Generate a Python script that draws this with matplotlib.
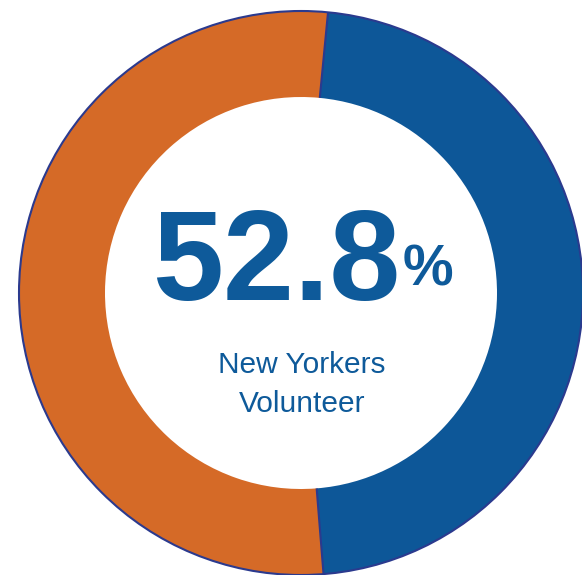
import numpy as np
import matplotlib.pyplot as plt
from matplotlib.patches import Circle

# shares of the ring (blue part, orange part)
labels = ['Do not volunteer', 'New Yorkers Volunteer']
values = [47.2, 52.8]
colors = ['#0d5798', '#d56a27']
big_text = '52.8'
subtitle = ['New Yorkers', 'Volunteer']

W, H = 582, 575
fig = plt.figure(figsize=(W / 100, H / 100), dpi=100)
ax = fig.add_axes([0, 0, 1, 1])

cx, cy = 301, H - 293
R = 282
ring = 86 / R

wedges, _ = ax.pie(values, colors=colors, startangle=84.5, counterclock=False,
                   center=(cx, cy), radius=R,
                   wedgeprops=dict(width=R * ring, linewidth=0))

# thin navy outline round the outside and along the wedge borders
edge = '#2b3a8e'
ax.add_patch(Circle((cx, cy), R, fill=False, ec=edge, lw=1.5, zorder=3))
r_in = R * (1 - ring)
for w in wedges[:1]:
    for a in (w.theta1, w.theta2):
        t = np.deg2rad(a)
        ax.plot([cx + r_in * np.cos(t), cx + R * np.cos(t)],
                [cy + r_in * np.sin(t), cy + R * np.sin(t)],
                color=edge, lw=1.5, zorder=3, solid_capstyle='butt')

txt = '#0e5a9a'
ax.text(152, H - 300, big_text, fontsize=92, fontweight='bold', color=txt,
        family='Liberation Sans', ha='left', va='baseline')
ax.text(403, H - 285, '%', fontsize=41, fontweight='bold', color=txt,
        family='Liberation Sans', ha='left', va='baseline')
ax.text(302, H - 373, subtitle[0], fontsize=21.5, color=txt,
        family='Liberation Sans', ha='center', va='baseline')
ax.text(302, H - 412, subtitle[1], fontsize=21.5, color=txt,
        family='Liberation Sans', ha='center', va='baseline')

ax.set_xlim(0, W)
ax.set_ylim(0, H)
ax.set_aspect('auto')
ax.axis('off')

fig.savefig('out.png', dpi=100)
